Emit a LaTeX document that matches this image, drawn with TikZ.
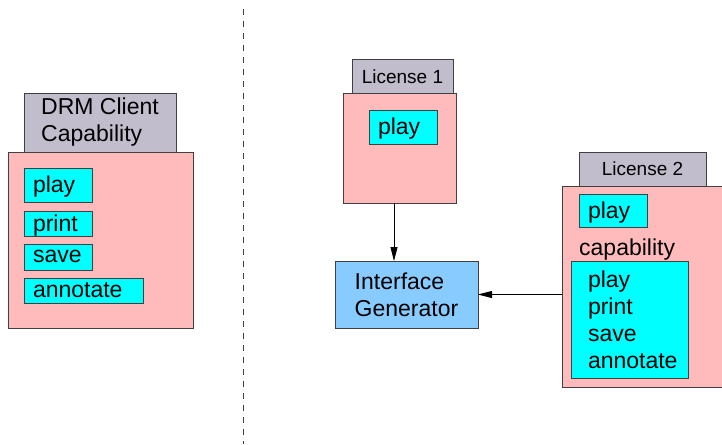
\documentclass[tikz,border=0pt]{standalone}
\usepackage{fontspec}
\setmainfont{Liberation Sans}
\usetikzlibrary{arrows.meta}
\definecolor{hdrgray}{RGB}{193,189,204}
\definecolor{panepink}{RGB}{255,187,187}
\definecolor{genblue}{RGB}{136,204,255}
\definecolor{permcyan}{RGB}{0,255,255}
\definecolor{edgegray}{RGB}{64,64,64}
\begin{document}
\begin{tikzpicture}[x=1pt,y=-1pt,
  font=\fontsize{23}{27}\selectfont,
  box/.style={draw=edgegray,line width=1pt,inner sep=0pt,outer sep=0pt,anchor=north west},
  hdr/.style={box,fill=hdrgray,align=left},
  pane/.style={box,fill=panepink},
  permset/.style={box,fill=permcyan,inner xsep=9pt,text width=50pt,align=left,minimum height=25pt},
  perm/.style={permset,text depth=1pt},
  gen/.style={box,fill=genblue,align=left},
  flow/.style={draw=black,line width=0.8pt,-{Triangle[length=14pt,width=7pt]}}]
\useasboundingbox (0,0) rectangle (722,444);
\coordinate (divtop) at (243,9);
\coordinate (divbot) at (243,444);
\draw[edgegray,line width=1pt,dash pattern=on 6pt off 6pt] (divtop) -- (divbot);
% client
\node[pane,minimum width=185pt,minimum height=176pt] (cpane) at (8,152) {};
\node[hdr,minimum width=152pt,minimum height=59pt] (chdr) at (24,93) {DRM Client\\Capability};
\node[perm,minimum height=34pt] (cplay) at (24,168) {play};
\node[perm] (cprint) at (24,211) {print};
\node[perm,minimum height=26pt] (csave) at (24,244) {save};
\node[perm,text width=101pt] (cannot) at (24,278) {annotate};
% license 1
\node[pane,minimum width=113pt,minimum height=110pt] (lapane) at (343,93) {};
\node[hdr,minimum width=101pt,minimum height=33pt,font=\fontsize{19}{23}\selectfont] (lahdr) at (352,60) {License 1};
\node[perm,minimum height=34pt] (laplay) at (369,110) {play};
% generator
\node[gen,minimum width=143pt,minimum height=67pt] (gen) at (335,261) {Interface\\Generator};
% license 2
\node[pane,minimum width=175pt,minimum height=201pt] (lbpane) at (562,186) {};
\node[hdr,minimum width=127pt,minimum height=34pt,font=\fontsize{19}{23}\selectfont] (lbhdr) at (579,152) {License 2};
\node[perm,minimum height=33pt] (lbplay) at (579,194) {play};
\node[anchor=base west,inner sep=0pt] (lbcap) at (579,255) {capability};
\node[permset,inner xsep=17pt,text width=83pt,minimum height=117pt] (lbset) at (571,261) {play\\print\\save\\annotate};
\draw[flow] ([xshift=-5.5pt]lapane.south) -- ([xshift=-5.5pt]lapane.south |- gen.north);
\draw[flow] (lbpane.west |- gen.east) -- (gen.east);
\end{tikzpicture}
\end{document}
